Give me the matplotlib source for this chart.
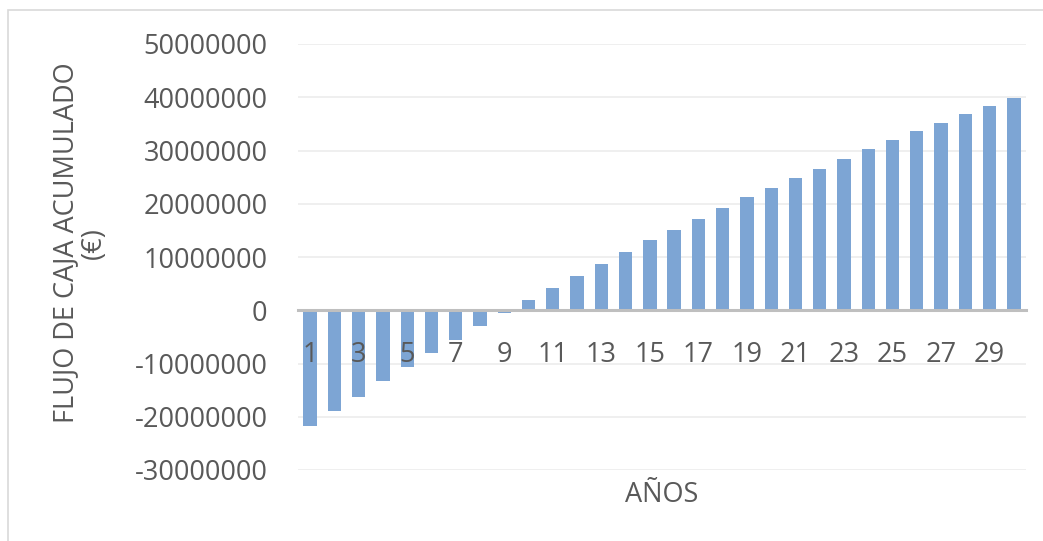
import matplotlib.pyplot as plt
from matplotlib.patches import Rectangle

# flujo de caja acumulado por año (euros)
anos = list(range(1, 31))
flujo = [-21800000, -19000000, -16200000, -13300000, -10700000,
         -8000000, -5600000, -3000000, -500000, 1900000,
         4200000, 6500000, 8700000, 10900000, 13100000,
         15100000, 17200000, 19200000, 21200000, 22900000,
         24800000, 26600000, 28400000, 30200000, 31900000,
         33600000, 35200000, 36800000, 38400000, 39800000]
etiquetas_x = [str(a) for a in anos[::2]]
yticks = list(range(-30000000, 50000001, 10000000))

gris = '#595959'
fs = 19.5
plt.rcParams['font.family'] = ['Open Sans', 'DejaVu Sans']

fig = plt.figure(figsize=(10.43, 5.41), dpi=100)
ax = fig.add_axes([298/1043, 1 - 470/541, (1026-298)/1043, (470-44)/541])

# el eje x cruza en 0 (hay que hacerlo antes de tocar los ticks)
for s in ['top', 'right', 'left']:
    ax.spines[s].set_visible(False)
ax.spines['bottom'].set_position(('data', 0))
ax.spines['bottom'].set_color('#bfbfbf')
ax.spines['bottom'].set_linewidth(2.2)

# lineas de cuadricula por detras de las barras
for v in yticks:
    if v != 0:
        ax.axhline(v, color='#ececec', linewidth=1.2, zorder=0)

ax.bar(anos, flujo, width=0.55, color='#7DA5D4', zorder=1)

ax.set_xlim(0.5, 30.5)
ax.set_ylim(-30000000, 50000000)
ax.set_yticks(yticks)
ax.set_yticklabels([str(v) for v in yticks], fontsize=fs, color=gris)
ax.set_xticks(anos[::2])
ax.set_xticklabels(etiquetas_x, fontsize=fs, color=gris)
ax.tick_params(axis='both', length=0)
ax.tick_params(axis='y', pad=22)
ax.tick_params(axis='x', pad=22)

fig.text(80/1043, 1 - 243/541, 'FLUJO DE CAJA ACUMULADO\n(€)', rotation=90,
         ha='center', va='center', fontsize=fs, color=gris, linespacing=1.0)
fig.text(662/1043, 1 - 495/541, 'AÑOS', ha='center', va='center',
         fontsize=fs, color=gris)

# marco exterior
fig.patches.append(Rectangle((8/1043, -0.1), 1.2, 1 - 10/541 + 0.1,
                             transform=fig.transFigure, fill=False,
                             edgecolor='#d9d9d9', linewidth=1.2))

fig.savefig('out.png', dpi=100)
